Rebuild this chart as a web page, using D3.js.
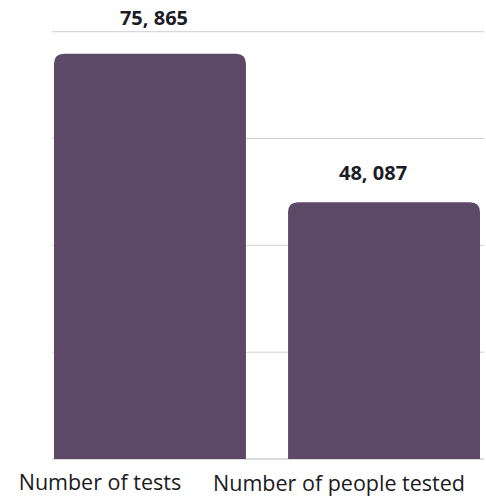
<!DOCTYPE html>
<html>
<head>
<meta charset="utf-8">
<script src="https://cdn.jsdelivr.net/npm/d3@7"></script>
<style>
  html, body { margin: 0; padding: 0; background: #fff; }
  svg { display: block; }
</style>
</head>
<body>
<svg id="chart" width="486" height="498"></svg>
<script>
// Testing totals
const categories = ["Number of tests", "Number of people tested"];
const values = [75865, 48087];
const valueLabels = ["75, 865", "48, 087"];
const gridTicks = [0, 20000, 40000, 60000, 80000];

// Layout
const width = 486, height = 498;
const plot = { left: 52, right: 484, top: 31.7, bottom: 459 };
const barColor = "#5c4967";
const radius = 10;
// Horizontal nudges for the text under / above each bar
const categoryNudge = [-50, -45];
const valueNudge = [4, -11];

const svg = d3.select("#chart");

const x = d3.scaleBand()
  .domain(categories)
  .range([54, 480])
  .paddingInner(0.18)
  .paddingOuter(0);

const y = d3.scaleLinear()
  .domain([0, 80000])
  .range([plot.bottom, plot.top]);

// Horizontal gridlines behind the bars
svg.append("g")
  .selectAll("line")
  .data(gridTicks)
  .join("line")
  .attr("x1", plot.left)
  .attr("x2", plot.right)
  .attr("y1", d => y(d))
  .attr("y2", d => y(d))
  .attr("stroke", d => d === 0 ? "#b9b9b9" : "#cfcfcf")
  .attr("stroke-width", 1);

// Bars with rounded top corners and a square base
function barPath(x0, w, yTop, yBase, r) {
  return `M${x0},${yBase}` +
    `V${yTop + r}` +
    `Q${x0},${yTop} ${x0 + r},${yTop}` +
    `H${x0 + w - r}` +
    `Q${x0 + w},${yTop} ${x0 + w},${yTop + r}` +
    `V${yBase}Z`;
}

svg.append("g")
  .selectAll("path")
  .data(values)
  .join("path")
  .attr("d", (d, i) => barPath(x(categories[i]), x.bandwidth(), y(d), y(0), radius))
  .attr("fill", barColor);

// Value labels; a label that would sit on the top gridline is lifted above it
function labelY(v) {
  const yl = y(v) - 22;
  const top = y(80000);
  return (yl < top + 12) ? top - 7 : yl;
}

svg.append("g")
  .selectAll("text")
  .data(values)
  .join("text")
  .attr("x", (d, i) => x(categories[i]) + x.bandwidth() / 2 + valueNudge[i])
  .attr("y", d => labelY(d))
  .attr("text-anchor", "middle")
  .attr("font-family", "'Open Sans', sans-serif")
  .attr("font-weight", 700)
  .attr("font-size", 20)
  .attr("fill", "#1c1c26")
  .text((d, i) => valueLabels[i]);

// Category labels
svg.append("g")
  .selectAll("text")
  .data(categories)
  .join("text")
  .attr("x", (d, i) => x(d) + x.bandwidth() / 2 + categoryNudge[i])
  .attr("y", (d, i) => i === 0 ? 490 : 491)
  .attr("text-anchor", "middle")
  .attr("font-family", "'Open Sans', sans-serif")
  .attr("font-size", 21.5)
  .attr("fill", "#1b1b22")
  .text(d => d);
</script>
</body>
</html>
